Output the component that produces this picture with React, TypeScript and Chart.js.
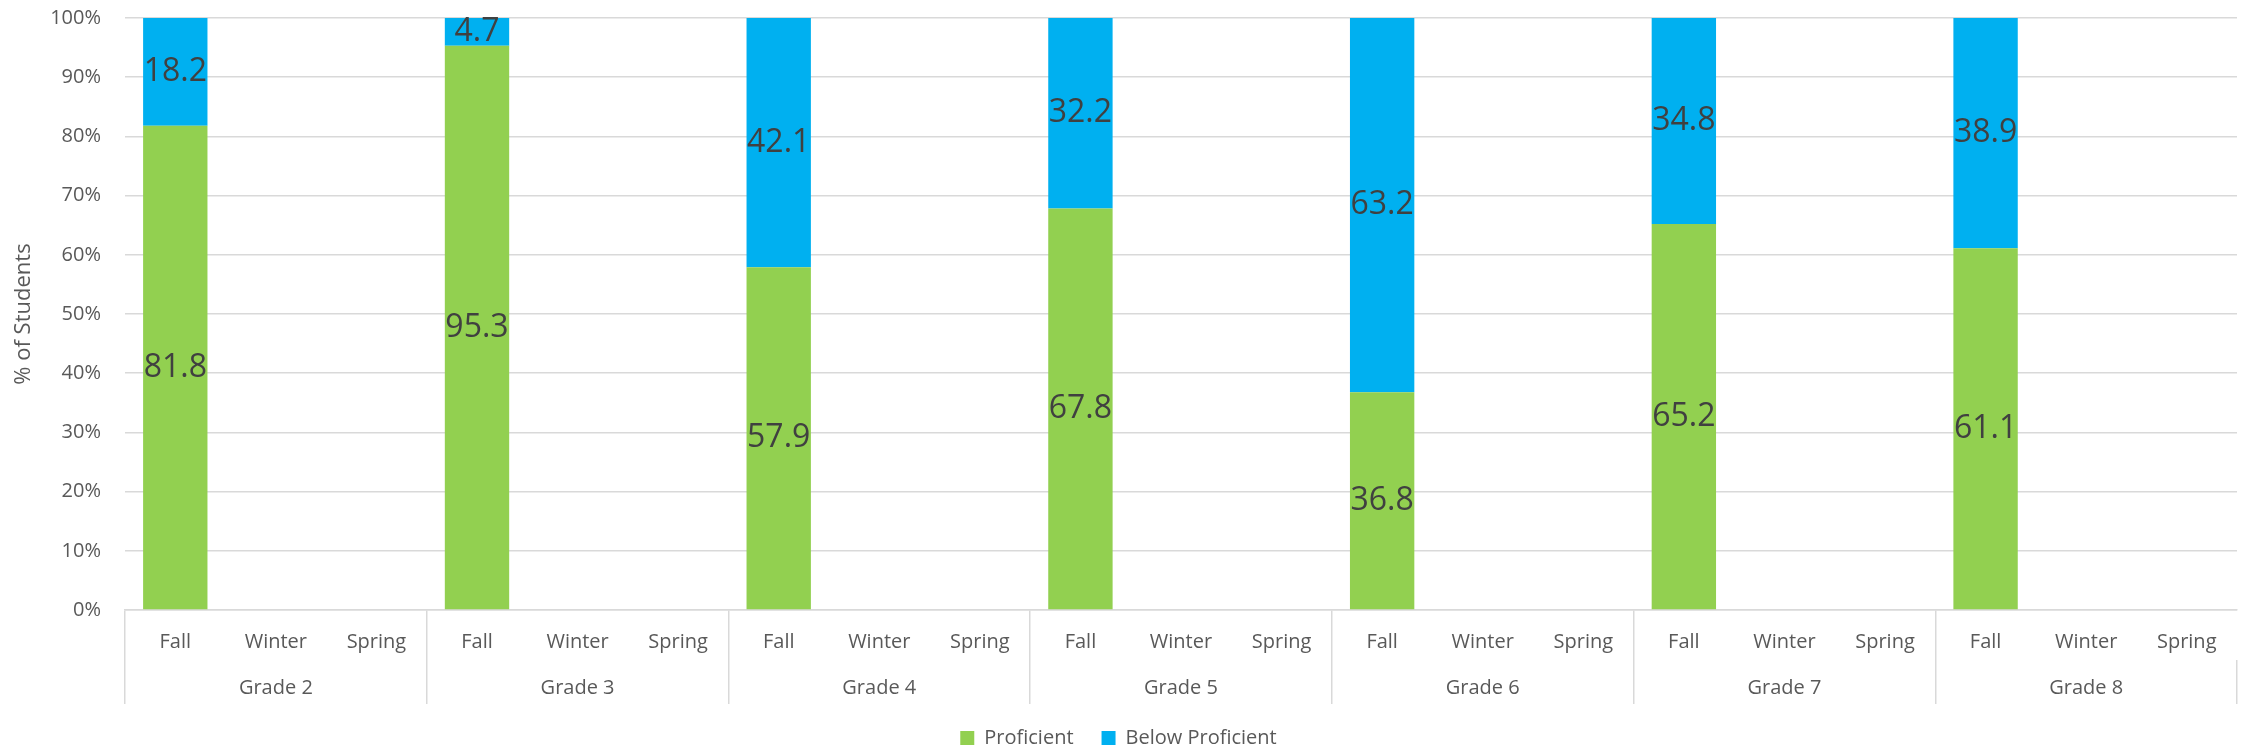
import { useEffect, useRef } from 'react';
import { Chart, registerables } from 'chart.js';

Chart.register(...registerables);

const grades = ['Grade 2', 'Grade 3', 'Grade 4', 'Grade 5', 'Grade 6', 'Grade 7', 'Grade 8'];
const seasons = ['Fall', 'Winter', 'Spring'];
const proficientFall = [81.8, 95.3, 57.9, 67.8, 36.8, 65.2, 61.1];
const belowFall = [18.2, 4.7, 42.1, 32.2, 63.2, 34.8, 38.9];
const proficientWinter: (number | null)[] = [null, null, null, null, null, null, null];
const belowWinter: (number | null)[] = [null, null, null, null, null, null, null];
const proficientSpring: (number | null)[] = [null, null, null, null, null, null, null];
const belowSpring: (number | null)[] = [null, null, null, null, null, null, null];

const FONT = '"Open Sans", "Noto Sans", sans-serif';
const TEXT = '#595959';
const LABEL = '#404040';
const GRID = '#D9D9D9';
const GREEN = '#92D050';
const BLUE = '#00B0F0';
const CLEAR = 'rgba(0,0,0,0)';

const segLabels = {
  id: 'segLabels',
  afterDatasetsDraw(chart: any) {
    const ctx = chart.ctx;
    ctx.save();
    ctx.font = `32px ${FONT}`;
    ctx.fillStyle = LABEL;
    ctx.textAlign = 'center';
    ctx.textBaseline = 'middle';
    chart.data.datasets.forEach((ds: any, di: number) => {
      const meta = chart.getDatasetMeta(di);
      if (meta.hidden) return;
      meta.data.forEach((el: any, i: number) => {
        const v = ds.data[i];
        if (v === null || v === undefined) return;
        const { x, y, base } = el.getProps(['x', 'y', 'base'], true);
        ctx.fillText(v.toFixed(1), x, (y + base) / 2);
      });
    });
    ctx.restore();
  },
};

export default function App() {
  const ref = useRef<HTMLCanvasElement | null>(null);

  useEffect(() => {
    if (!ref.current) return;
    const labels = grades.flatMap(() => seasons);
    const prof = grades.flatMap((_, g) => [proficientFall[g], proficientWinter[g], proficientSpring[g]]);
    const below = grades.flatMap((_, g) => [belowFall[g], belowWinter[g], belowSpring[g]]);
    const tickFont = () => ({ family: FONT, size: 20 });

    const chart = new Chart(ref.current, {
      type: 'bar',
      data: {
        labels,
        datasets: [
          { label: 'Proficient', data: prof, backgroundColor: GREEN, borderWidth: 0, categoryPercentage: 1, barPercentage: 0.64 },
          { label: 'Below Proficient', data: below, backgroundColor: BLUE, borderWidth: 0, categoryPercentage: 1, barPercentage: 0.64 },
        ],
      },
      options: {
        animation: false,
        responsive: true,
        maintainAspectRatio: false,
        layout: { padding: { left: 0, top: 18, right: 7, bottom: -10 } },
        plugins: {
          tooltip: { enabled: false },
          legend: {
            position: 'bottom',
            labels: { boxWidth: 14, boxHeight: 14, padding: 28, color: TEXT, font: tickFont() },
          },
        },
        scales: {
          x: {
            stacked: true,
            weight: 0,
            offset: true,
            grid: {
              display: true,
              offset: true,
              drawOnChartArea: false,
              drawTicks: true,
              tickLength: 50,
              lineWidth: 1.5,
              color: (c: any) => (c.index % 3 === 0 ? GRID : CLEAR),
              tickColor: (c: any) => (c.index % 3 === 0 ? GRID : CLEAR),
            },
            border: { display: true, color: GRID, width: 1.5 },
            ticks: { padding: -30, color: TEXT, font: tickFont(), maxRotation: 0 },
            afterFit: (s: any) => { s.height = 50; },
          },
          x2: {
            type: 'category',
            labels: grades,
            position: 'bottom',
            weight: 1,
            offset: true,
            grid: {
              display: true,
              offset: true,
              drawOnChartArea: false,
              drawTicks: true,
              tickLength: 44,
              lineWidth: 1.5,
              color: GRID,
              tickColor: GRID,
            },
            border: { display: false },
            ticks: { padding: -28, color: TEXT, font: tickFont(), maxRotation: 0 },
            afterFit: (s: any) => { s.height = 40; },
          },
          y: {
            stacked: true,
            min: 0,
            max: 100,
            ticks: { stepSize: 10, padding: 0, color: TEXT, font: tickFont(), callback: (v: any) => `${v}%` },
            grid: { color: GRID, lineWidth: 1.5, drawTicks: true, tickLength: 24, tickColor: CLEAR },
            border: { display: false },
            title: {
              display: true,
              text: '% of Students',
              color: TEXT,
              font: { family: FONT, size: 22 },
              padding: { top: 11, bottom: 0 },
            },
            afterFit: (s: any) => { s.width = 125; },
          },
        },
      } as any,
      plugins: [segLabels],
    });
    return () => chart.destroy();
  }, []);

  return (
    <div style={{ position: 'fixed', left: 0, top: 0, width: 2244, height: 748, background: '#fff' }}>
      <canvas ref={ref} />
    </div>
  );
}
